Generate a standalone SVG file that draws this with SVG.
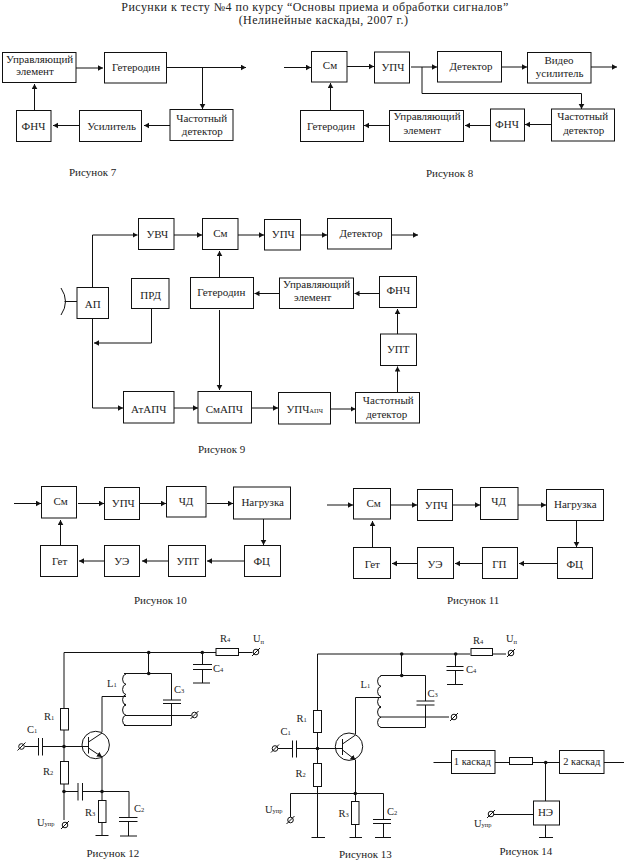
<svg xmlns="http://www.w3.org/2000/svg" xmlns:xlink="http://www.w3.org/1999/xlink" width="624" height="863" viewBox="0 0 624 863">
<style>
text{font-family:"Liberation Serif","Times New Roman",serif;fill:#222;font-size:11px;text-anchor:middle}
.b rect,rect.b{fill:#fff;stroke:#111;stroke-width:1}
.c path{fill:none;stroke:#111;stroke-width:1}
.a{marker-end:url(#ar)}
.cap{text-anchor:start;font-size:11px}
.l{text-anchor:start;font-size:10.5px}
.title{font-size:12px;letter-spacing:.46px}
.s{font-size:6.5px}
.w{fill:none;stroke:#111;stroke-width:1}
.d{fill:#111;stroke:none}
</style>
<defs>
<marker id="ar" markerUnits="userSpaceOnUse" markerWidth="7" markerHeight="7" refX="5" refY="3" orient="auto"><path d="M0,0.2L5,3L0,5.8Z" fill="#111" stroke="none"/></marker>
<g id="term"><circle r="2.8" fill="#fff" stroke="#111"/><path d="M-4,4L4,-4" stroke="#111"/></g>
</defs>
<rect width="624" height="863" fill="#fff"/>
<g id="title">
<text class="title" x="315" y="10.8">Рисунки к тесту №4 по курсу “Основы приема и обработки сигналов”</text>
<text class="title" x="323.5" y="24.4">(Нелинейные каскады, 2007 г.)</text>
</g>

<g id="connectors" class="c">
<!-- fig 7 -->
<path class="a" d="M76,68H103"/><path class="a" d="M167,67.5H246"/><path class="a" d="M202.5,67.5V109"/><path class="a" d="M170,125.5H144"/><path class="a" d="M79,125.5H53"/><path class="a" d="M34.5,110V84"/>
<!-- fig 8 -->
<path class="a" d="M284,67.5H311"/><path class="a" d="M347,66.5H374"/><path class="a" d="M411,67H437"/><path class="a" d="M502,67H527"/><path class="a" d="M591,67H617"/><path class="a" d="M422,67V93.5H581.5V109"/><path class="a" d="M551,124.5H525"/><path class="a" d="M490,125.5H465"/><path class="a" d="M389,125.5H364"/><path class="a" d="M330.5,110V83"/>
<!-- fig 9 -->
<path class="a" d="M92.5,287V235H137.5"/><path class="a" d="M174,235H202"/><path class="a" d="M238,235H264"/><path class="a" d="M301,235H327"/><path class="a" d="M392,235H418"/><path class="a" d="M92.5,319V408H123"/><path class="a" d="M151.5,309V343H94"/><path class="a" d="M219.5,277V251"/><path class="a" d="M219.5,310V390"/><path class="a" d="M279,293.5H254.5"/><path class="a" d="M379,293.5H354.5"/><path class="a" d="M397.5,334V309"/><path class="a" d="M397.5,392V366.5"/><path class="a" d="M174,408H198"/><path class="a" d="M252,408H278"/><path class="a" d="M331,409H355.5"/>
<!-- fig 10 -->
<path class="a" d="M14,503.5H41"/><path class="a" d="M78,503.5H104"/><path class="a" d="M140,503.5H166"/><path class="a" d="M207,503.5H233"/><path class="a" d="M263.5,519V545"/><path class="a" d="M244,561H207"/><path class="a" d="M168,561H142"/><path class="a" d="M104,561H79"/><path class="a" d="M60.5,545V520"/>
<!-- fig 11 -->
<path class="a" d="M327,505H353"/><path class="a" d="M391,505H417"/><path class="a" d="M453,505H480"/><path class="a" d="M518,505H546"/><path class="a" d="M576.5,521V547"/><path class="a" d="M557,563.5H519"/><path class="a" d="M482,563.5H455"/><path class="a" d="M417,563.5H392"/><path class="a" d="M372.5,547V521"/>
<!-- fig 14 -->
<path d="M433.5,762.5H452"/><path d="M495,762.5H510"/><path d="M532,762.5H559.5"/><path d="M604,762.5H625"/><path d="M545.5,762.5V801"/><path d="M494,814.5H533.5"/><path d="M545.5,825V837.5"/><path d="M539,837.5H553"/>
</g>

<g id="fig7" class="b">
<g id="f7-upr"><rect x="2.5" y="52.5" width="73.5" height="30"/><text x="39.7" y="62.5">Управляющий</text><text x="35" y="75">элемент</text></g>
<g id="f7-get"><rect x="104.5" y="52.5" width="62" height="30.5"/><text x="136" y="70.5">Гетеродин</text></g>
<g id="f7-chd"><rect x="170" y="109.5" width="63" height="31"/><text x="201.7" y="121.5">Частотный</text><text x="202.3" y="135">детектор</text></g>
<g id="f7-fnch"><rect x="16.5" y="110.5" width="34.5" height="31"/><text x="33.5" y="129.5">ФНЧ</text></g>
<g id="f7-us"><rect x="79.5" y="110.5" width="62" height="31"/><text x="111.7" y="129.5">Усилитель</text></g>
</g>
<text class="cap" x="69" y="175.5">Рисунок 7</text>

<g id="fig8" class="b">
<g id="f8-sm"><rect x="311.5" y="51.5" width="35.5" height="30.5"/><text x="330" y="69">См</text></g>
<g id="f8-upch"><rect x="374.5" y="52" width="35" height="31"/><text x="393" y="71">УПЧ</text></g>
<g id="f8-det"><rect x="437.5" y="51.5" width="64" height="30.5"/><text x="471" y="70">Детектор</text></g>
<g id="f8-vid"><rect x="527.5" y="52.5" width="63.5" height="30.5"/><text x="559" y="64">Видео</text><text x="559.7" y="77">усилитель</text></g>
<g id="f8-chd"><rect x="551.5" y="109" width="63" height="32"/><text x="582.7" y="120">Частотный</text><text x="583.7" y="134">детектор</text></g>
<g id="f8-fnch"><rect x="490.5" y="109" width="34" height="32"/><text x="507" y="128">ФНЧ</text></g>
<g id="f8-upr"><rect x="389.5" y="110.5" width="74" height="31"/><text x="427" y="120">Управляющий</text><text x="422.3" y="133.7">элемент</text></g>
<g id="f8-get"><rect x="300.5" y="110.5" width="63" height="31"/><text x="331" y="129.5">Гетеродин</text></g>
</g>
<text class="cap" x="426" y="176.5">Рисунок 8</text>

<g id="fig9" class="b">
<g id="f9-uvch"><rect x="138.5" y="218.5" width="35.5" height="31"/><text x="157.3" y="238">УВЧ</text></g>
<g id="f9-sm"><rect x="202.5" y="218.5" width="35.5" height="31"/><text x="220.3" y="237">См</text></g>
<g id="f9-upch"><rect x="264.5" y="219.5" width="36" height="30.5"/><text x="283.3" y="238">УПЧ</text></g>
<g id="f9-det"><rect x="327.5" y="218.5" width="64" height="30.5"/><text x="361" y="237">Детектор</text></g>
<g id="f9-ap"><rect x="77" y="287.5" width="31.5" height="31"/><text x="92.7" y="307.5">АП</text></g>
<g id="f9-prd"><rect x="131.5" y="278.5" width="37.5" height="30"/><text x="150.7" y="298.5">ПРД</text></g>
<g id="f9-get"><rect x="190.5" y="277.5" width="63" height="31"/><text x="221.3" y="296">Гетеродин</text></g>
<g id="f9-upr"><rect x="279.5" y="278" width="74" height="30.5"/><text x="316.7" y="288">Управляющий</text><text x="312.7" y="301">элемент</text></g>
<g id="f9-fnch"><rect x="379.5" y="276.5" width="37" height="31"/><text x="398.3" y="294">ФНЧ</text></g>
<g id="f9-upt"><rect x="380.5" y="334" width="36" height="31.5"/><text x="398.3" y="352.5">УПТ</text></g>
<g id="f9-at"><rect x="123.5" y="391.5" width="50.5" height="31.5"/><text x="148.7" y="412.5">АтАПЧ</text></g>
<g id="f9-smapch"><rect x="198" y="391.5" width="53.5" height="31.5"/><text x="224.3" y="412.5">СмАПЧ</text></g>
<g id="f9-upchapch"><rect x="278.5" y="392.5" width="52" height="31.5"/><text x="304.7" y="412.5">УПЧ<tspan class="s">АПЧ</tspan></text></g>
<g id="f9-chd"><rect x="355.5" y="392.5" width="64" height="30.5"/><text x="388.3" y="404">Частотный</text><text x="386.7" y="417.5">детектор</text></g>
<g id="f9-ant"><path class="w" d="M64.5,301.5H77M61,288Q70,301.5 61,315"/></g>
</g>
<text class="cap" x="198" y="453">Рисунок 9</text>

<g id="fig10" class="b">
<g id="f10-sm"><rect x="41.5" y="486.5" width="35" height="31.5"/><text x="60.7" y="504.5">См</text></g>
<g id="f10-upch"><rect x="104.5" y="487.5" width="35" height="32"/><text x="123.3" y="507">УПЧ</text></g>
<g id="f10-chd"><rect x="166.5" y="486.5" width="39.5" height="30.5"/><text x="186" y="505">ЧД</text></g>
<g id="f10-nag"><rect x="233.5" y="487" width="57" height="32"/><text x="262.7" y="506">Нагрузка</text></g>
<g id="f10-fc"><rect x="244.5" y="545.5" width="36" height="31"/><text x="261.7" y="565">ФЦ</text></g>
<g id="f10-upt"><rect x="168.5" y="545.5" width="37" height="31"/><text x="187.7" y="565">УПТ</text></g>
<g id="f10-ue"><rect x="104.5" y="545.5" width="35" height="31"/><text x="121.7" y="565">УЭ</text></g>
<g id="f10-get"><rect x="40.5" y="545.5" width="37" height="31"/><text x="59.7" y="565">Гет</text></g>
</g>
<text class="cap" x="134" y="603.5">Рисунок 10</text>

<g id="fig11" class="b">
<g id="f11-sm"><rect x="353.5" y="488.5" width="37" height="30.5"/><text x="373.7" y="507">См</text></g>
<g id="f11-upch"><rect x="417.5" y="489.5" width="35" height="31"/><text x="436.3" y="508.5">УПЧ</text></g>
<g id="f11-chd"><rect x="480.5" y="487.5" width="37.5" height="32"/><text x="498.7" y="505">ЧД</text></g>
<g id="f11-nag"><rect x="546.5" y="489.5" width="57" height="31"/><text x="575.3" y="507.5">Нагрузка</text></g>
<g id="f11-fc"><rect x="557.5" y="547.5" width="35" height="31"/><text x="574.7" y="567.5">ФЦ</text></g>
<g id="f11-gp"><rect x="482.5" y="547.5" width="35" height="31"/><text x="499.3" y="567.5">ГП</text></g>
<g id="f11-ue"><rect x="417.5" y="547.5" width="36" height="31"/><text x="435" y="567.5">УЭ</text></g>
<g id="f11-get"><rect x="353.5" y="547.5" width="37" height="31"/><text x="372.3" y="567.5">Гет</text></g>
</g>
<text class="cap" x="447" y="604">Рисунок 11</text>

<g id="fig12">
<path class="w" d="M64,652.5H216M238.5,652.5H252.5M148.5,652.5V673.5M124,673.5H171.5V700M171.5,703.5V725.5H124M202.5,652.5V664.5M202.5,669.5V683M193,683H210M193,664.5H212M193,669.5H212M163,700H181M163,703.5H181M126,674a4,5.2 0 0 0 0,10.3a4,5.2 0 0 0 0,10.3a4,5.2 0 0 0 0,10.3a4,5.2 0 0 0 0,10.3a4,5.2 0 0 0 0,10.3M126,696.5H102V732M126,715.5H191M64,652.5V708.5M64,730V761.5M64,784V820M25,746.5H38M42.5,746.5H88M38.5,738V755.5M42.5,738V755.5M88.5,737V753.5M88.5,742L102,733M102,757V791.5M64,791.5H78M82.5,791.5H129V817M78,783V800.5M82.5,783V800.5M119,817.5H137.5M119,821.5H137.5M128.5,821.5V836M120,836H137M102,791.5V800.5M102,822.5V835.5M95.5,835.5H108.5"/>
<path class="a w" d="M88.5,748L102,757"/>
<circle class="w" cx="95.7" cy="745" r="13.7"/>
<rect class="b" x="216" y="648.5" width="22.5" height="7"/><rect class="b" x="60.5" y="708.5" width="8" height="21.5"/><rect class="b" x="60.5" y="761.5" width="8" height="22.5"/><rect class="b" x="98.5" y="800.5" width="7.5" height="22"/>
<circle class="d" cx="148.7" cy="652.5" r="1.8"/><circle class="d" cx="202.3" cy="652.5" r="1.8"/><circle class="d" cx="148.7" cy="673.5" r="1.8"/><circle class="d" cx="64" cy="746.5" r="1.8"/><circle class="d" cx="64" cy="791.5" r="1.8"/><circle class="d" cx="102" cy="791.5" r="1.8"/><circle class="d" cx="125" cy="704.7" r="1"/>
<use xlink:href="#term" x="256" y="652"/><use xlink:href="#term" x="194.5" y="715"/><use xlink:href="#term" x="21.5" y="746.5"/><use xlink:href="#term" x="65" y="825"/>
<text class="l" x="220" y="642">R<tspan class="s">4</tspan></text><text class="l" x="253" y="642">U<tspan class="s" dy="2">п</tspan></text><text class="l" x="213" y="672">C<tspan class="s">4</tspan></text><text class="l" x="107" y="687">L<tspan class="s">1</tspan></text><text class="l" x="174" y="693">C<tspan class="s">3</tspan></text><text class="l" x="44" y="720">R<tspan class="s">1</tspan></text><text class="l" x="27" y="733">C<tspan class="s">1</tspan></text><text class="l" x="43" y="775">R<tspan class="s">2</tspan></text><text class="l" x="85" y="816">R<tspan class="s">3</tspan></text><text class="l" x="134" y="812">C<tspan class="s">2</tspan></text><text class="l" x="37" y="826">U<tspan class="s">упр</tspan></text>
</g>
<text class="cap" x="86.5" y="857">Рисунок 12</text>

<g id="fig13">
<path class="w" d="M317.5,654H470M492,654H506M401.5,654V675.5M380.5,675.5H425.5V701M425.5,705V727.5H380.5M455.5,654V666.5M455.5,670.5V684.5M447,684.5H463M446.5,666.5H463.5M446.5,670.5H463.5M416.5,701H434.5M416.5,705H434.5M381,676a4,5.2 0 0 0 0,10.3a4,5.2 0 0 0 0,10.3a4,5.2 0 0 0 0,10.3a4,5.2 0 0 0 0,10.3a4,5.2 0 0 0 0,10.3M381,697.5H355.5V734M381,717H449M317.5,654V710.5M317.5,732V837.5M311.5,837.5H325M278,748.5H292.5M296.5,748.5H342.5M292.5,740.5V757.5M296.5,740.5V757.5M342.5,739V755M342.5,744L355.5,735M355.5,760V793.5M290.5,793.5H383.5V819.5M290.5,793.5V817M355.5,793.5V801.5M355.5,824V837.5M349.5,837.5H362M373,819.5H391M373,823.5H391M383.5,823.5V837.5M375,837.5H391"/>
<path class="a w" d="M342.5,750L355.5,760"/>
<circle class="w" cx="349" cy="746.7" r="13.7"/>
<rect class="b" x="471" y="648.5" width="21.5" height="7"/><rect class="b" x="313.5" y="710.5" width="8" height="22"/><rect class="b" x="313.5" y="763.5" width="8" height="23"/><rect class="b" x="351.5" y="801.5" width="7.5" height="23"/>
<circle class="d" cx="401.7" cy="654" r="1.8"/><circle class="d" cx="455.7" cy="654" r="1.8"/><circle class="d" cx="401.7" cy="675.5" r="1.8"/><circle class="d" cx="317.5" cy="748.5" r="1.8"/><circle class="d" cx="355.3" cy="793.5" r="1.8"/><circle class="d" cx="380" cy="707.3" r="1"/>
<use xlink:href="#term" x="511" y="653"/><use xlink:href="#term" x="454" y="717"/><use xlink:href="#term" x="275" y="748.5"/><use xlink:href="#term" x="290.5" y="820"/>
<text class="l" x="473" y="644">R<tspan class="s">4</tspan></text><text class="l" x="506" y="642">U<tspan class="s" dy="2">п</tspan></text><text class="l" x="466" y="673">C<tspan class="s">4</tspan></text><text class="l" x="360.5" y="688">L<tspan class="s">1</tspan></text><text class="l" x="427.5" y="697">C<tspan class="s">3</tspan></text><text class="l" x="296.5" y="722">R<tspan class="s">1</tspan></text><text class="l" x="280.5" y="735">C<tspan class="s">1</tspan></text><text class="l" x="295.5" y="777">R<tspan class="s">2</tspan></text><text class="l" x="338.5" y="817">R<tspan class="s">3</tspan></text><text class="l" x="387" y="815">C<tspan class="s">2</tspan></text><text class="l" x="265" y="813">U<tspan class="s">упр</tspan></text>
</g>
<text class="cap" x="339" y="857.5">Рисунок 13</text>

<g id="fig14" class="b">
<g id="f14-k1"><rect x="451.5" y="750.5" width="43.5" height="23"/><text x="472.3" y="764.5" style="font-size:10.5px">1 каскад</text></g>
<g id="f14-k2"><rect x="559.5" y="750.5" width="44.5" height="23"/><text x="581.7" y="764.5" style="font-size:10.5px">2 каскад</text></g>
<g id="f14-r"><rect x="509.5" y="757.5" width="23" height="7"/></g>
<g id="f14-ne"><rect x="533.5" y="801" width="26" height="24"/><text x="545.5" y="815.5">НЭ</text></g>
<circle class="d" cx="545.7" cy="762.5" r="1.8"/>
<use xlink:href="#term" x="491" y="814"/>
<text class="l" x="474" y="827">U<tspan class="s">упр</tspan></text>
</g>
<text class="cap" x="499.5" y="855">Рисунок 14</text>
</svg>
